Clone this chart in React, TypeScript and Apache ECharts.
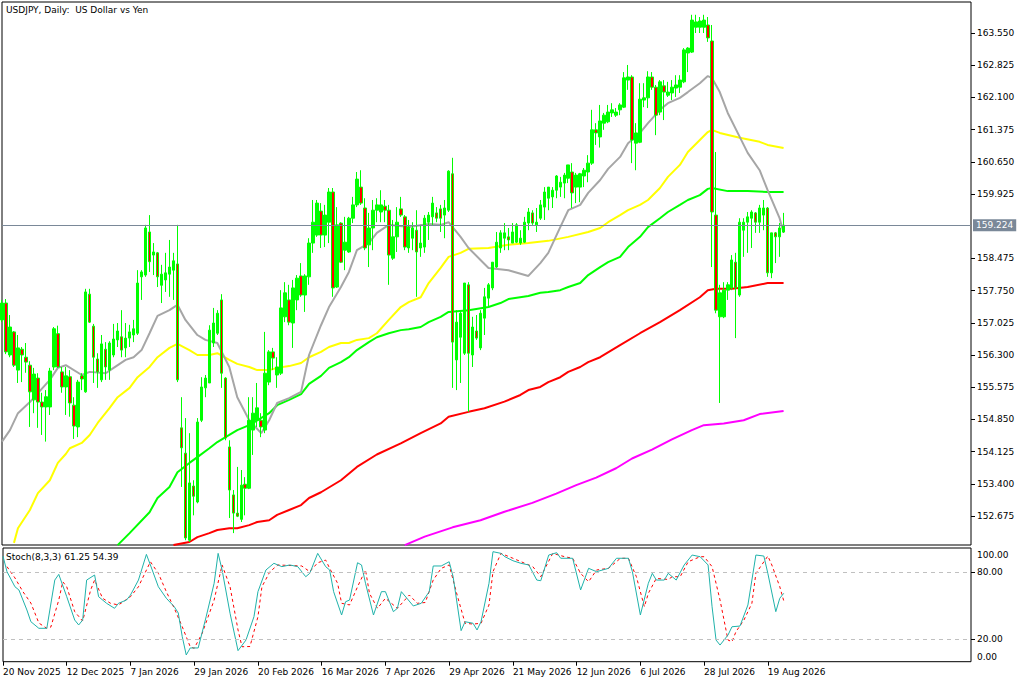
import React, { useEffect, useRef } from "react";
import * as echarts from "echarts";

// ---- labels / ticks ----
const tickLabels = [
  "20 Nov 2025", "12 Dec 2025", "7 Jan 2026", "29 Jan 2026", "20 Feb 2026",
  "16 Mar 2026", "7 Apr 2026", "29 Apr 2026", "21 May 2026", "12 Jun 2026",
  "6 Jul 2026", "28 Jul 2026", "19 Aug 2026",
];
const BARS_PER_LABEL = 16;
const SLOT_COUNT = 244;
const priceTicks = [
  152.675, 153.4, 154.125, 154.85, 155.575, 156.3, 157.025, 157.75, 158.475,
  159.925, 160.65, 161.375, 162.1, 162.825, 163.55,
];
const lastPrice = 159.224;
const stochTicks = [0, 20, 80, 100];
const stochLevels = [20, 80];
const titleText = "USDJPY, Daily:  US Dollar vs Yen";
const stochTitle = "Stoch(8,3,3) 61.25 54.39";

// ---- daily candles: [open, high, low, close] ----
const candles: number[][] = [
  [157.09, 157.54, 157.04, 157.47], [157.47, 157.56, 156.32, 156.37], [156.30, 157.20, 156.25, 156.93],
  [156.82, 156.84, 156.03, 156.07], [155.96, 156.75, 155.67, 156.46], [156.43, 156.48, 155.69, 156.30],
  [156.25, 156.57, 155.90, 156.14], [156.07, 156.16, 154.68, 155.47], [155.29, 156.01, 154.99, 155.87],
  [155.78, 155.89, 154.66, 155.24], [155.24, 155.45, 154.50, 155.13], [155.13, 155.51, 154.35, 155.36],
  [155.13, 156.01, 154.95, 155.94], [156.03, 156.93, 155.96, 156.89], [156.78, 156.96, 156.01, 156.03],
  [155.92, 156.03, 155.45, 155.58], [155.58, 156.03, 154.95, 155.83], [155.81, 155.96, 154.91, 155.22],
  [155.17, 155.35, 154.41, 154.70], [154.68, 155.74, 154.45, 155.69], [155.83, 155.89, 155.51, 155.76],
  [155.47, 157.79, 155.45, 157.72], [157.67, 157.79, 157.02, 157.04], [156.95, 157.00, 155.67, 156.25],
  [156.21, 156.34, 155.56, 155.92], [155.74, 156.75, 155.69, 156.55], [156.43, 156.59, 155.74, 156.03],
  [155.96, 156.61, 155.74, 156.57], [156.30, 157.00, 156.25, 156.66], [156.64, 157.02, 156.48, 156.84],
  [156.71, 157.31, 156.25, 156.41], [156.46, 157.02, 156.25, 156.68], [156.68, 156.98, 156.48, 156.82],
  [156.75, 157.09, 156.59, 156.89], [156.79, 158.21, 156.75, 157.92], [158.06, 158.21, 157.54, 158.17],
  [158.10, 159.23, 158.06, 159.16], [159.07, 159.45, 158.17, 158.40], [158.55, 158.82, 158.10, 158.62],
  [158.60, 158.62, 157.83, 158.06], [157.87, 158.33, 157.47, 158.12], [157.99, 158.60, 157.72, 158.15],
  [158.12, 158.89, 157.61, 158.28], [158.21, 158.60, 157.54, 158.42], [158.35, 159.23, 155.69, 155.74],
  [154.66, 155.35, 153.33, 154.21], [154.09, 154.88, 152.13, 152.18], [152.13, 154.54, 152.09, 153.42],
  [153.35, 153.48, 152.69, 153.12], [152.99, 154.88, 152.96, 154.79], [154.83, 155.80, 154.79, 155.58],
  [155.56, 155.85, 155.35, 155.78], [155.67, 156.97, 155.67, 156.86], [156.57, 157.36, 156.48, 157.02],
  [156.79, 157.31, 156.75, 157.24], [157.54, 157.67, 155.56, 155.89], [155.78, 155.80, 154.38, 154.43],
  [154.23, 154.38, 152.63, 153.26], [153.15, 153.26, 152.29, 152.74], [152.74, 153.78, 152.65, 152.67],
  [152.60, 153.71, 152.54, 153.37], [153.39, 153.55, 152.69, 153.30], [153.30, 155.35, 153.28, 154.83],
  [154.61, 155.35, 154.05, 154.99], [154.83, 155.67, 154.68, 155.11], [154.83, 154.99, 154.45, 154.68],
  [154.61, 156.82, 154.54, 155.89], [155.69, 156.41, 155.62, 156.37], [156.37, 156.46, 155.96, 156.23],
  [155.85, 156.25, 155.56, 156.03], [155.89, 157.76, 155.85, 157.36], [157.16, 157.94, 157.04, 157.70],
  [157.54, 157.88, 156.97, 157.04], [157.02, 157.99, 156.46, 157.81], [157.54, 158.10, 157.31, 158.03],
  [158.08, 158.37, 157.61, 157.65], [157.65, 158.12, 157.27, 158.08], [158.06, 158.93, 157.88, 158.82],
  [158.82, 159.79, 158.60, 159.29], [159.00, 159.79, 158.96, 159.72], [159.54, 159.72, 158.71, 159.00],
  [159.00, 159.68, 158.73, 159.45], [159.29, 160.06, 158.82, 159.97], [159.97, 160.06, 157.61, 157.81],
  [157.83, 159.63, 157.81, 159.23], [159.27, 159.29, 158.37, 158.39], [158.66, 159.41, 158.21, 158.84],
  [158.62, 159.41, 158.60, 159.38], [159.38, 159.86, 159.27, 159.68], [159.68, 160.42, 159.63, 160.26],
  [160.08, 160.46, 159.68, 159.72], [159.61, 159.83, 158.66, 158.71], [158.78, 159.50, 158.28, 159.16],
  [159.16, 159.79, 158.66, 159.56], [159.56, 159.83, 159.29, 159.68], [159.52, 160.01, 159.29, 159.68],
  [159.65, 159.79, 159.29, 159.56], [159.56, 159.68, 157.88, 158.55], [158.48, 159.34, 158.44, 158.96],
  [158.96, 159.63, 158.62, 159.29], [159.59, 159.86, 159.41, 159.45], [159.41, 159.45, 158.66, 158.73],
  [158.71, 159.34, 158.60, 159.18], [158.93, 159.29, 158.66, 159.16], [159.11, 159.56, 157.61, 158.62],
  [158.71, 159.23, 158.51, 158.82], [158.73, 159.45, 158.60, 159.38], [159.29, 159.52, 158.89, 159.45],
  [159.41, 159.86, 159.23, 159.72], [159.50, 159.63, 159.29, 159.38], [159.59, 159.68, 159.07, 159.38],
  [159.45, 159.79, 158.93, 159.61], [159.56, 160.46, 159.52, 160.44], [160.38, 160.74, 155.56, 156.59],
  [156.19, 157.31, 155.51, 157.04], [156.70, 157.31, 155.67, 157.24], [156.34, 157.92, 156.30, 157.92],
  [157.88, 157.94, 155.02, 156.34], [156.30, 157.16, 156.03, 156.93], [156.84, 157.20, 156.64, 156.68],
  [156.46, 157.31, 156.41, 157.24], [157.13, 157.81, 156.75, 157.61], [157.58, 157.92, 157.36, 157.88],
  [157.81, 158.39, 157.76, 158.39], [158.28, 159.07, 158.26, 158.84], [158.71, 159.11, 158.60, 159.05],
  [158.93, 159.27, 158.66, 159.05], [158.96, 159.16, 158.66, 158.89], [158.82, 159.27, 158.82, 159.07],
  [158.84, 159.27, 158.82, 159.23], [158.82, 159.11, 158.78, 158.93], [158.84, 159.41, 158.82, 159.29],
  [159.27, 159.61, 159.11, 159.52], [159.50, 159.56, 159.23, 159.27], [159.23, 159.61, 159.07, 159.29],
  [159.38, 159.79, 159.34, 159.68], [159.63, 160.08, 159.34, 159.97], [159.83, 160.08, 159.56, 160.08],
  [159.86, 160.08, 159.61, 160.01], [160.01, 160.35, 159.83, 160.33], [160.08, 160.31, 159.86, 160.19],
  [160.17, 160.40, 159.83, 160.35], [160.28, 160.58, 160.17, 160.58], [160.42, 160.62, 159.61, 159.95],
  [160.08, 160.40, 159.72, 160.35], [160.08, 160.40, 159.74, 160.38], [160.33, 160.51, 160.08, 160.46],
  [160.42, 160.80, 160.19, 160.62], [160.62, 161.82, 160.58, 161.37], [161.37, 161.52, 161.03, 161.30],
  [161.21, 161.93, 160.97, 161.57], [161.52, 161.75, 161.37, 161.70], [161.55, 161.93, 161.52, 161.77],
  [161.75, 161.97, 161.66, 161.82], [161.70, 161.86, 161.66, 161.77], [161.82, 161.97, 161.70, 161.93],
  [161.88, 162.67, 161.86, 162.54], [162.49, 162.83, 162.27, 162.56], [162.56, 162.60, 160.62, 161.14],
  [161.07, 161.52, 160.46, 161.30], [161.09, 162.42, 161.07, 162.06], [162.04, 162.42, 161.88, 162.09],
  [162.09, 162.69, 161.86, 162.56], [162.56, 162.67, 162.27, 162.33], [162.33, 162.38, 161.25, 161.70],
  [161.77, 162.49, 161.70, 162.45], [162.36, 162.49, 161.59, 162.22], [162.15, 162.45, 162.11, 162.22],
  [162.20, 162.49, 162.04, 162.33], [162.31, 162.60, 162.11, 162.38], [162.33, 162.60, 162.20, 162.49],
  [162.45, 163.21, 162.42, 163.17], [163.10, 163.23, 162.67, 163.21], [163.12, 163.96, 163.10, 163.84],
  [163.68, 163.96, 163.55, 163.80], [163.68, 163.91, 163.55, 163.82], [163.68, 163.96, 163.55, 163.84],
  [163.73, 163.91, 163.35, 163.44], [163.37, 163.73, 158.28, 159.52], [159.45, 160.87, 157.24, 157.31],
  [157.16, 157.88, 155.22, 157.70], [157.16, 157.94, 157.13, 157.76], [157.76, 157.94, 157.54, 157.88],
  [157.81, 158.55, 157.76, 158.44], [158.39, 158.60, 156.68, 157.81], [157.65, 159.38, 157.61, 159.29],
  [159.11, 159.38, 158.51, 159.29], [159.29, 159.52, 158.60, 159.41], [159.38, 159.56, 158.71, 159.52],
  [159.50, 159.52, 159.05, 159.29], [159.29, 159.68, 159.05, 159.61], [159.45, 159.79, 159.11, 159.61],
  [159.61, 159.63, 158.06, 158.15], [158.15, 159.05, 158.03, 159.05], [159.05, 159.07, 158.37, 158.96],
  [158.96, 159.27, 158.51, 159.16], [159.07, 159.50, 159.05, 159.224],
];

// ---- moving averages, read at [bar, price] ----
const maGray: number[][] = [
  [0, 154.35], [2, 154.61], [4, 154.99], [7, 155.24], [9, 155.44], [12, 155.74], [14, 156.01], [16, 156.07],
  [20, 155.85], [22, 155.92], [26, 155.89], [28, 156.01], [31, 156.19], [33, 156.25], [35, 156.41], [37, 156.79],
  [39, 157.18], [42, 157.31], [44, 157.43], [46, 157.09], [49, 156.75], [51, 156.64], [54, 156.57], [57, 156.03],
  [59, 155.35], [62, 154.83], [65, 154.54], [67, 154.83], [69, 155.22], [72, 155.33], [75, 155.47], [77, 156.30],
  [80, 156.97], [82, 157.38], [85, 157.83], [87, 158.17], [89, 158.66], [92, 158.82], [94, 159.05], [97, 159.23],
  [102, 159.18], [107, 159.25], [110, 159.23], [112, 159.29], [115, 158.96], [117, 158.71], [120, 158.44],
  [122, 158.26], [127, 158.21], [132, 158.08], [135, 158.37], [137, 158.60], [140, 159.18], [142, 159.56],
  [145, 159.68], [147, 159.95], [150, 160.24], [152, 160.49], [155, 160.76], [157, 161.07], [160, 161.30],
  [162, 161.52], [165, 161.82], [167, 161.97], [170, 162.09], [172, 162.22], [175, 162.42], [177, 162.58],
  [178, 162.54], [180, 162.22], [182, 161.75], [185, 161.21], [187, 160.85], [190, 160.46], [192, 160.01],
  [195, 159.38], [196, 159.05],
];
const maYellow: number[][] = [
  [3, 152.07], [4, 152.40], [7, 152.81], [9, 153.19], [12, 153.48], [14, 153.87], [16, 154.07], [17, 154.20],
  [20, 154.32], [22, 154.50], [24, 154.77], [27, 155.11], [29, 155.35], [32, 155.56], [34, 155.80], [37, 156.03],
  [39, 156.25], [42, 156.46], [44, 156.55], [47, 156.41], [49, 156.30], [52, 156.30], [54, 156.34], [57, 156.19],
  [59, 156.10], [62, 156.03], [64, 155.96], [67, 155.96], [69, 156.01], [72, 156.05], [75, 156.12], [77, 156.25],
  [80, 156.37], [82, 156.48], [85, 156.57], [87, 156.57], [89, 156.64], [92, 156.68], [94, 156.79], [97, 157.09],
  [100, 157.38], [102, 157.49], [105, 157.60], [107, 157.92], [110, 158.26], [112, 158.51], [115, 158.60],
  [117, 158.69], [122, 158.71], [127, 158.78], [132, 158.82], [137, 158.87], [142, 158.96], [147, 159.07],
  [150, 159.16], [152, 159.29], [155, 159.45], [157, 159.56], [160, 159.68], [162, 159.79], [165, 160.06],
  [167, 160.31], [170, 160.58], [172, 160.87], [175, 161.14], [177, 161.32], [178, 161.37], [180, 161.30],
  [185, 161.19], [190, 161.10], [192, 161.03], [196, 160.96],
];
const maGreen: number[][] = [
  [29, 152.02], [32, 152.29], [37, 152.76], [39, 153.08], [42, 153.33], [44, 153.66], [47, 153.87], [49, 154.00],
  [52, 154.20], [54, 154.34], [57, 154.50], [59, 154.61], [62, 154.72], [64, 154.83], [67, 154.99], [69, 155.17],
  [72, 155.29], [75, 155.42], [77, 155.65], [80, 155.83], [82, 156.01], [85, 156.14], [87, 156.25], [89, 156.41],
  [92, 156.59], [94, 156.70], [97, 156.79], [100, 156.86], [102, 156.88], [105, 156.93], [107, 157.04],
  [110, 157.16], [112, 157.27], [117, 157.31], [122, 157.38], [125, 157.47], [127, 157.56], [132, 157.63],
  [135, 157.70], [137, 157.72], [140, 157.76], [142, 157.83], [145, 157.92], [147, 158.10], [150, 158.28],
  [152, 158.39], [155, 158.51], [157, 158.73], [160, 158.96], [162, 159.18], [165, 159.38], [167, 159.52],
  [170, 159.68], [172, 159.79], [175, 159.90], [177, 160.04], [178, 160.06], [182, 159.99], [187, 159.99],
  [192, 159.97], [196, 159.97],
];
const maRed: number[][] = [
  [43, 152.02], [47, 152.09], [49, 152.20], [52, 152.29], [54, 152.36], [57, 152.40], [59, 152.40], [62, 152.47],
  [64, 152.54], [67, 152.58], [69, 152.70], [72, 152.81], [75, 152.92], [77, 153.08], [80, 153.21], [85, 153.48],
  [89, 153.78], [94, 154.06], [100, 154.31], [105, 154.54], [110, 154.76], [112, 154.91], [117, 155.02],
  [121, 155.10], [126, 155.25], [130, 155.40], [132, 155.51], [135, 155.58], [137, 155.69], [140, 155.80],
  [142, 155.92], [145, 156.03], [147, 156.14], [150, 156.25], [155, 156.52], [160, 156.79], [165, 157.04],
  [170, 157.31], [175, 157.60], [177, 157.76], [179, 157.79], [183, 157.79], [187, 157.83], [192, 157.92],
  [196, 157.92],
];
const maMagenta: number[][] = [
  [101, 152.02], [106, 152.21], [113, 152.42], [120, 152.58], [126, 152.77], [133, 152.97], [139, 153.18],
  [144, 153.37], [149, 153.54], [154, 153.75], [158, 153.97], [163, 154.17], [168, 154.40], [173, 154.61],
  [176, 154.72], [181, 154.76], [186, 154.83], [190, 154.97], [196, 155.04],
];

// ---- stochastic (8,3,3), read at [bar, value] ----
const stochMain: number[][] = [
  [0, 94.5], [1, 80.6], [3, 67.1], [4, 64.2], [6, 46.3], [7, 35.8], [9, 29.9], [11, 29.9], [13, 73.1], [14, 78.2],
  [16, 58.2], [18, 37.3], [19, 32.9], [20, 37.3], [21, 73.1], [23, 77.6], [24, 58.2], [26, 52.3], [28, 47.8],
  [29, 52.3], [31, 55.2], [32, 59.7], [34, 73.1], [36, 96.1], [37, 86.6], [39, 67.1], [41, 56.8], [43, 49.2],
  [44, 43.6], [45, 22.4], [46, 6.0], [47, 12.3], [49, 12.3], [51, 40.3], [53, 70.2], [54, 97.0], [55, 82.1],
  [57, 43.3], [59, 9.9], [61, 19.4], [63, 40.3], [64, 62.7], [66, 82.1], [68, 88.1], [70, 85.1], [72, 86.6],
  [74, 85.1], [76, 76.1], [77, 79.1], [79, 97.0], [81, 85.1], [82, 82.1], [83, 62.7], [85, 41.8], [86, 53.7],
  [87, 55.2], [89, 88.6], [90, 86.6], [91, 70.2], [93, 41.8], [95, 62.7], [96, 62.7], [98, 44.8], [99, 47.8],
  [100, 62.7], [103, 49.9], [105, 52.3], [107, 62.7], [108, 85.7], [110, 85.7], [112, 89.5], [113, 76.1],
  [115, 27.8], [116, 35.8], [118, 34.4], [119, 28.4], [120, 35.8], [122, 70.2], [123, 98.5], [125, 97.0],
  [126, 94.0], [128, 90.4], [130, 88.1], [132, 86.6], [134, 73.1], [135, 72.5], [137, 95.5], [139, 97.6],
  [140, 92.6], [143, 92.6], [145, 64.2], [147, 83.6], [149, 80.6], [152, 83.6], [154, 92.6], [157, 92.6],
  [158, 80.6], [160, 41.8], [162, 70.2], [163, 79.1], [164, 73.1], [166, 73.1], [167, 79.1], [169, 73.1],
  [171, 86.6], [173, 95.5], [175, 94.0], [177, 86.6], [178, 49.2], [179, 19.4], [180, 14.9], [182, 23.9],
  [183, 31.3], [185, 31.9], [187, 50.8], [188, 73.1], [189, 95.5], [191, 94.6], [192, 79.1], [194, 44.8],
  [195, 56.8], [196, 61.25],
];
const stochSignal: number[][] = [
  [1, 85.1], [3, 75.0], [5, 62.7], [7, 52.5], [9, 34.6], [11, 29.9], [12, 31.0], [14, 55.2], [15, 71.6],
  [16, 67.1], [18, 44.8], [20, 36.4], [22, 64.2], [23, 73.1], [25, 56.8], [27, 52.3], [29, 50.8], [32, 58.2],
  [34, 67.1], [37, 89.5], [39, 79.1], [41, 62.7], [43, 47.8], [45, 31.3], [47, 13.4], [48, 12.0], [50, 25.4],
  [53, 55.2], [55, 86.6], [57, 67.1], [59, 28.4], [60, 13.4], [62, 13.6], [64, 40.3], [65, 67.1], [67, 80.6],
  [69, 86.6], [75, 85.7], [77, 80.6], [79, 88.6], [81, 91.0], [82, 83.6], [84, 70.2], [85, 52.3], [87, 50.8],
  [89, 67.1], [91, 82.1], [92, 61.2], [94, 47.8], [96, 56.8], [99, 47.8], [102, 59.7], [104, 52.3], [106, 53.0],
  [108, 73.1], [110, 83.6], [112, 86.6], [114, 59.7], [116, 34.4], [118, 33.7], [120, 34.4], [122, 50.8],
  [123, 80.6], [125, 97.0], [128, 92.6], [131, 88.1], [133, 85.1], [135, 76.1], [138, 97.0], [141, 94.0],
  [143, 92.6], [145, 79.1], [147, 71.6], [149, 82.1], [152, 83.6], [155, 92.6], [157, 92.6], [159, 76.1],
  [161, 49.2], [162, 61.2], [164, 74.6], [167, 73.6], [168, 76.1], [170, 76.1], [172, 89.5], [175, 94.0],
  [176, 94.0], [178, 85.1], [180, 55.2], [182, 19.4], [183, 17.9], [184, 26.9], [186, 37.3], [188, 52.3],
  [189, 79.1], [192, 94.6], [193, 86.6], [195, 67.1], [196, 54.39],
];

const FONT = "DejaVu Sans";

export default function App() {
  const ref = useRef<HTMLDivElement>(null);

  useEffect(() => {
    if (!ref.current) return;
    const chart = echarts.init(ref.current, null, { renderer: "svg" });
    const categories = Array.from({ length: SLOT_COUNT }, (_, i) => String(i));
    const showTick = (i: number) =>
      i % BARS_PER_LABEL === 0 && i / BARS_PER_LABEL < tickLabels.length;

    const maLine = (data: number[][], color: string) => ({
      type: "line",
      xAxisIndex: 0,
      yAxisIndex: 0,
      data,
      symbol: "none",
      showSymbol: false,
      silent: true,
      z: 2,
      lineStyle: { color, width: 2 },
    });

    const option: any = {
      animation: false,
      backgroundColor: "#ffffff",
      textStyle: { fontFamily: FONT },
      grid: [
        { left: 2, right: 53, top: 2, height: 543, show: true, borderColor: "#000", borderWidth: 1 },
        { left: 2, right: 53, top: 548, height: 113.7, show: true, borderColor: "#000", borderWidth: 1 },
      ],
      xAxis: [
        {
          type: "category",
          gridIndex: 0,
          data: categories,
          boundaryGap: false,
          axisLine: { show: false },
          axisTick: { show: false },
          axisLabel: { show: false },
          splitLine: { show: false },
        },
        {
          type: "category",
          gridIndex: 1,
          data: categories,
          boundaryGap: false,
          axisLine: { show: false },
          axisTick: {
            show: true,
            interval: (i: number) => showTick(i),
            length: 4,
            lineStyle: { color: "#000" },
          },
          axisLabel: {
            interval: (i: number) => showTick(i),
            formatter: (_v: string, i: number) => tickLabels[i / BARS_PER_LABEL] ?? "",
            align: "left",
            fontSize: 9,
            color: "#000",
            margin: 6,
            fontFamily: FONT,
          },
          splitLine: { show: false },
        },
      ],
      yAxis: [
        {
          type: "value",
          gridIndex: 0,
          position: "right",
          min: 152.022,
          max: 164.248,
          splitLine: { show: false },
          axisLine: { show: false },
          axisTick: { show: true, length: 4, customValues: priceTicks, lineStyle: { color: "#000" } },
          axisLabel: {
            customValues: priceTicks,
            formatter: (v: number) => v.toFixed(3),
            fontSize: 9,
            color: "#000",
            margin: 6,
            fontFamily: FONT,
          },
        },
        {
          type: "value",
          gridIndex: 1,
          position: "right",
          min: 0,
          max: 101.8,
          splitLine: { show: false },
          axisLine: { show: false },
          axisTick: { show: true, length: 4, customValues: stochLevels, lineStyle: { color: "#000" } },
          axisLabel: {
            customValues: stochTicks,
            formatter: (v: number) => v.toFixed(2),
            fontSize: 9,
            color: "#000",
            margin: 6,
            fontFamily: FONT,
            verticalAlignMaxLabel: "top",
            verticalAlignMinLabel: "bottom",
          },
        },
      ],
      series: [
        maLine(maMagenta, "#ff00ff"),
        maLine(maRed, "#ff0000"),
        maLine(maGreen, "#00ff00"),
        maLine(maYellow, "#ffff00"),
        maLine(maGray, "#a6a6a6"),
        {
          type: "candlestick",
          xAxisIndex: 0,
          yAxisIndex: 0,
          z: 3,
          barWidth: 3,
          data: candles.map(([o, h, l, c]) => [o, c, l, h]),
          itemStyle: {
            color: "#00ff00",
            color0: "#ff0000",
            borderColor: "#00ff00",
            borderColor0: "#00ff00",
            borderColorDoji: "#00ff00",
            borderWidth: 1,
          },
          markLine: {
            silent: true,
            symbol: ["none", "none"],
            data: [{ yAxis: lastPrice }],
            lineStyle: { color: "#7a8898", width: 1, type: "solid" },
            label: {
              show: true,
              position: "end",
              formatter: lastPrice.toFixed(3),
              color: "#ffffff",
              backgroundColor: "#7a8898",
              padding: [2, 3, 1, 3],
              fontSize: 9,
              fontFamily: FONT,
              distance: 2,
            },
          },
        },
        {
          type: "line",
          xAxisIndex: 1,
          yAxisIndex: 1,
          data: stochMain,
          symbol: "none",
          showSymbol: false,
          silent: true,
          z: 3,
          lineStyle: { color: "#20b2aa", width: 1 },
          markLine: {
            silent: true,
            symbol: ["none", "none"],
            data: stochLevels.map((v) => ({ yAxis: v })),
            lineStyle: { color: "#c0c0c0", width: 1, type: [4, 4] },
            label: { show: false },
          },
        },
        {
          type: "line",
          xAxisIndex: 1,
          yAxisIndex: 1,
          data: stochSignal,
          symbol: "none",
          showSymbol: false,
          silent: true,
          z: 2,
          lineStyle: { color: "#ff0000", width: 1, type: [3, 3] },
        },
      ],
      graphic: [
        {
          type: "text",
          left: 6,
          top: 5,
          style: { text: titleText, fill: "#000", font: `9px '${FONT}'` },
        },
        {
          type: "text",
          left: 6,
          top: 552,
          style: { text: stochTitle, fill: "#000", font: `9px '${FONT}'` },
        },
      ],
    };

    chart.setOption(option);
    return () => chart.dispose();
  }, []);

  return (
    <div
      ref={ref}
      style={{ position: "fixed", left: 0, top: 0, width: 1024, height: 683, background: "#fff" }}
    />
  );
}
